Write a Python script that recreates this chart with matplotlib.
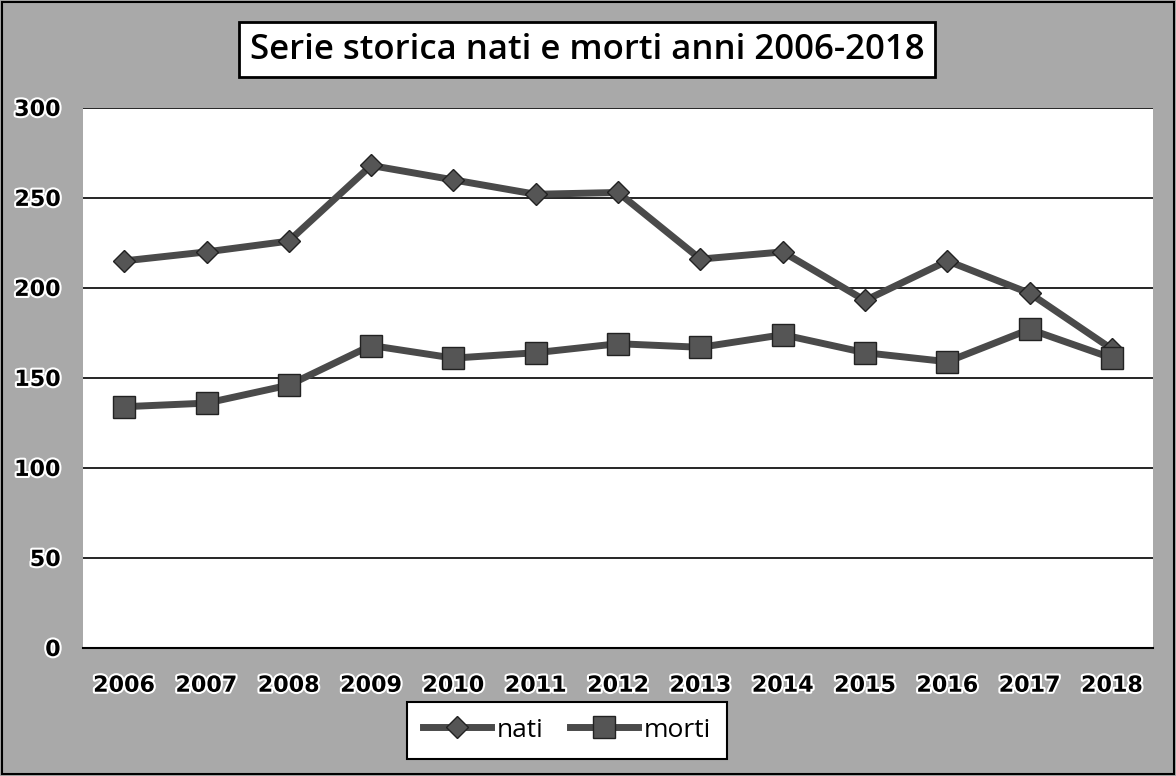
import matplotlib.pyplot as plt
import matplotlib.patheffects as pe

# Serie storica nati e morti
anni = ['2006', '2007', '2008', '2009', '2010', '2011', '2012',
        '2013', '2014', '2015', '2016', '2017', '2018']
nati = [215, 220, 226, 268, 260, 252, 253, 216, 220, 193, 215, 197, 166]
morti = [134, 136, 146, 168, 161, 164, 169, 167, 174, 164, 159, 177, 161]

fig = plt.figure(figsize=(11.76, 7.76), dpi=100)
fig.patch.set_facecolor('#a9a9a9')

ax = fig.add_axes([0.0706, 0.165, 0.91, 0.696])
ax.set_facecolor('white')

x = range(len(anni))
line_col = '#4a4a4a'
ax.plot(x, nati, color=line_col, lw=5, marker='D', ms=11,
        markerfacecolor='#555555', markeredgecolor='#222222', label='nati', zorder=3)
ax.plot(x, morti, color=line_col, lw=5, marker='s', ms=16,
        markerfacecolor='#555555', markeredgecolor='#222222', label='morti', zorder=3)

ax.set_xlim(-0.5, len(anni) - 0.5)
ax.set_ylim(0, 300)
ax.set_yticks(range(0, 301, 50))
ax.set_xticks(list(x))
ax.set_xticklabels(anni)
ax.yaxis.grid(True, color='black', lw=1.2)
ax.set_axisbelow(True)

for s in ['top', 'right', 'left']:
    ax.spines[s].set_visible(False)
ax.spines['bottom'].set_linewidth(1.5)
ax.tick_params(length=0, labelsize=16, pad=20)
ax.tick_params(axis='y', pad=16)
outline = [pe.withStroke(linewidth=3, foreground='white')]
for lab in ax.get_xticklabels() + ax.get_yticklabels():
    lab.set_fontweight('bold')
    lab.set_path_effects(outline)

fig.text(0.499, 0.936, 'Serie storica nati e morti anni 2006-2018',
         ha='center', va='center', fontsize=25, family='Open Sans',
         fontweight='semibold',
         bbox=dict(boxstyle='square,pad=0.3', facecolor='white',
                   edgecolor='black', lw=2))

leg = fig.legend(loc='center', bbox_to_anchor=(0.482, 0.059), ncol=2,
                 frameon=True, fancybox=False, handlelength=2.6,
                 columnspacing=1.0, handletextpad=0.2, borderpad=0.6,
                 prop={'family': 'Open Sans', 'size': 19})
leg.get_frame().set_edgecolor('black')
leg.get_frame().set_facecolor('white')
leg.get_frame().set_alpha(1)
leg.get_frame().set_linewidth(1.5)

# outer border of the scanned chart
fig.add_artist(plt.Rectangle((0.002, 0.003), 0.996, 0.994, transform=fig.transFigure,
                             fill=False, edgecolor='black', lw=1.5))

fig.savefig('out.png', dpi=100, facecolor=fig.get_facecolor())
